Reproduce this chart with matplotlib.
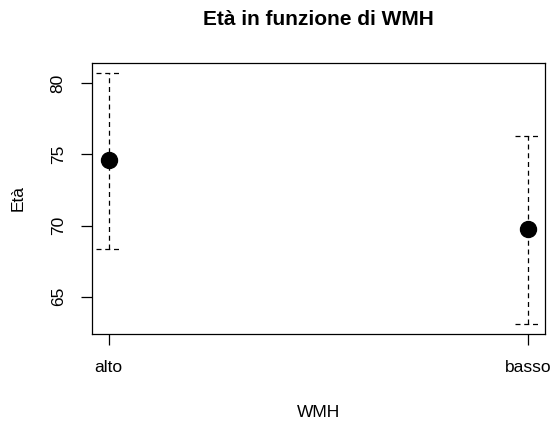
import matplotlib.pyplot as plt

plt.rcParams['font.family'] = ['Liberation Sans', 'DejaVu Sans']

gruppi = ["alto", "basso"]
media = [74.63, 69.74]
inferiore = [68.36, 63.08]
superiore = [80.73, 76.29]
yticks = [65, 70, 75, 80]

x = list(range(1, len(gruppi) + 1))
cap = 0.03

fig = plt.figure(figsize=(5.52, 4.22), dpi=100)
ax = fig.add_axes([0.1667, 0.2085, 0.8203, 0.6425])

dash = (0, (4, 3))
ax.vlines(x, inferiore, superiore, colors="black", linestyles=dash, linewidth=0.9)
ax.hlines(inferiore, [v - cap for v in x], [v + cap for v in x],
          colors="black", linestyles=dash, linewidth=0.9)
ax.hlines(superiore, [v - cap for v in x], [v + cap for v in x],
          colors="black", linestyles=dash, linewidth=0.9)
ax.plot(x, media, "o", color="black", markersize=11.5)

lo = min(inferiore)
hi = max(superiore)
ext = (hi - lo) * 0.04
ax.set_ylim(lo - ext, hi + ext)
ax.set_xlim(1 - 0.04, len(gruppi) + 0.04)

ax.set_xticks(x)
ax.set_xticklabels(gruppi, fontsize=12.5)
ax.set_yticks(yticks)
ax.set_yticklabels([str(v) for v in yticks], fontsize=12.5, rotation=90, va="center")
ax.tick_params(axis="both", length=8, width=0.9, color="black", pad=11)

for s in ax.spines.values():
    s.set_linewidth(0.9)
    s.set_color("black")

ax.set_xlabel("WMH", fontsize=12.5, labelpad=21)
ax.set_ylabel("Età", fontsize=12.5, labelpad=18)
ax.set_title("Età in funzione di WMH", fontsize=15, fontweight="bold", pad=27)

fig.savefig("out.png", dpi=100)
